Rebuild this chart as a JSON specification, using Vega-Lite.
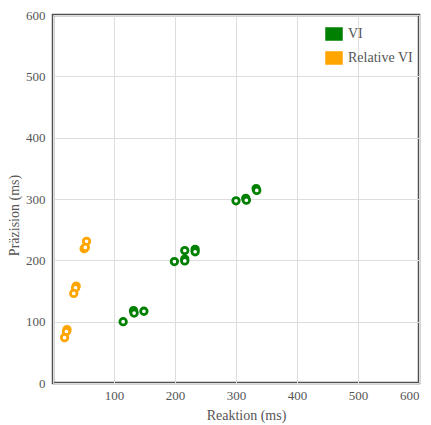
{
  "$schema": "https://vega.github.io/schema/vega-lite/v6.json",
  "width": 366,
  "height": 368,
  "autosize": "none",
  "padding": {"left": 53, "top": 15, "right": 12, "bottom": 42},
  "background": "white",
  "config": {
    "font": "Liberation Serif",
    "view": {"stroke": "#505050", "strokeWidth": 2.5},
    "axis": {
      "domain": false,
      "ticks": false,
      "gridColor": "#dddddd",
      "gridWidth": 1,
      "labelFont": "Liberation Serif",
      "labelFontSize": 13,
      "labelColor": "#555555",
      "titleFont": "Liberation Serif",
      "titleFontSize": 14,
      "titleFontWeight": "normal",
      "titleColor": "#555555"
    }
  },
  "data": {
    "values": [
      {"r": 115, "p": 100, "g": "VI"},
      {"r": 132, "p": 118, "g": "VI"},
      {"r": 133, "p": 114, "g": "VI"},
      {"r": 149, "p": 117, "g": "VI"},
      {"r": 199, "p": 198, "g": "VI"},
      {"r": 216, "p": 202, "g": "VI"},
      {"r": 216, "p": 199, "g": "VI"},
      {"r": 216, "p": 216, "g": "VI"},
      {"r": 233, "p": 218, "g": "VI"},
      {"r": 233, "p": 214, "g": "VI"},
      {"r": 300, "p": 297, "g": "VI"},
      {"r": 316, "p": 301, "g": "VI"},
      {"r": 317, "p": 298, "g": "VI"},
      {"r": 333, "p": 317, "g": "VI"},
      {"r": 334, "p": 314, "g": "VI"},
      {"r": 55, "p": 231, "g": "Relative VI"},
      {"r": 51, "p": 219, "g": "Relative VI"},
      {"r": 53, "p": 221, "g": "Relative VI"},
      {"r": 38, "p": 158, "g": "Relative VI"},
      {"r": 37, "p": 155, "g": "Relative VI"},
      {"r": 34, "p": 146, "g": "Relative VI"},
      {"r": 23, "p": 87, "g": "Relative VI"},
      {"r": 22, "p": 84, "g": "Relative VI"},
      {"r": 19, "p": 74, "g": "Relative VI"}
    ]
  },
  "encoding": {
    "x": {
      "field": "r", "type": "quantitative", "title": "Reaktion (ms)",
      "scale": {"domain": [0, 600], "nice": false},
      "axis": {"values": [0, 100, 200, 300, 400, 500, 600], "labelExpr": "datum.value == 0 ? '' : datum.label", "labelPadding": 6, "titlePadding": 6, "titleX": 193}
    },
    "y": {
      "field": "p", "type": "quantitative", "title": "Präzision (ms)",
      "scale": {"domain": [0, 600], "nice": false},
      "axis": {"values": [0, 100, 200, 300, 400, 500, 600], "labelPadding": 8, "titlePadding": 4, "titleY": 200}
    }
  },
  "layer": [
    {
      "mark": {"type": "square", "filled": true, "size": 1, "opacity": 1},
      "encoding": {
        "color": {
          "field": "g", "type": "nominal", "sort": ["VI", "Relative VI"],
          "scale": {"domain": ["VI", "Relative VI"], "range": ["#008000", "#FFA500"]},
          "legend": {
            "title": null,
            "orient": "none",
            "legendX": 272,
            "legendY": 10,
            "symbolType": "M-1,-0.75H1V0.75H-1Z",
            "symbolSize": 256,
            "symbolOpacity": 1,
            "symbolStrokeColor": "#cccccc",
            "symbolStrokeWidth": 1.5,
            "labelFont": "Liberation Serif",
            "labelFontSize": 14,
            "labelColor": "#555555",
            "rowPadding": 6,
            "labelOffset": 5
          }
        }
      }
    },
    {
      "mark": {"type": "point", "shape": "circle", "filled": false, "fill": "white", "fillOpacity": 1, "size": 42, "strokeWidth": 2.8, "opacity": 1},
      "encoding": {
        "stroke": {
          "field": "g", "type": "nominal",
          "scale": {"domain": ["VI", "Relative VI"], "range": ["#008000", "#FFA500"]},
          "legend": null
        }
      }
    }
  ]
}
